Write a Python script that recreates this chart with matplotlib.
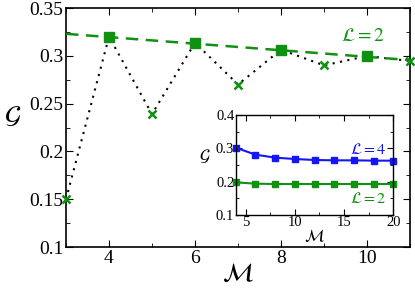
import numpy as np
import matplotlib
matplotlib.use("Agg")
import matplotlib.pyplot as plt
from matplotlib.ticker import MultipleLocator

plt.rcParams["font.family"] = ["Liberation Serif", "DejaVu Serif"]
plt.rcParams["mathtext.fontset"] = "stix"

GREEN = "#119111"
BLUE = "#1515f5"

# main panel data
M_all = [3, 4, 5, 6, 7, 8, 9, 10, 11]
G_all = [0.150, 0.320, 0.239, 0.3137, 0.270, 0.3064, 0.290, 0.2998, 0.2946]
M_even = [4, 6, 8, 10]
G_even = [0.320, 0.3137, 0.3064, 0.2998]
M_odd = [3, 5, 7, 9, 11]
G_odd = [0.150, 0.239, 0.270, 0.290, 0.2946]
fit_M = [3, 11]
fit_G = [0.323, 0.2955]

# inset data
M_in = [4, 6, 8, 10, 12, 14, 16, 18, 20]
G_L4 = [0.302, 0.281, 0.272, 0.268, 0.265, 0.264, 0.264, 0.263, 0.263]
G_L2 = [0.198, 0.194, 0.193, 0.193, 0.193, 0.193, 0.193, 0.193, 0.193]

fig = plt.figure(figsize=(4.15, 2.91), dpi=100)
ax = fig.add_axes([0.159, 0.151, 0.829, 0.8215])

ax.plot(M_all, G_all, color="black", lw=1.5, dashes=(1, 2.6), zorder=2)
ax.plot(fit_M, fit_G, "--", color=GREEN, lw=1.8, dashes=(5, 3), zorder=3)
ax.plot(M_even, G_even, "s", color=GREEN, ms=6.5, zorder=4)
ax.plot(M_odd, G_odd, "x", color=GREEN, ms=5.5, mew=1.8, zorder=4, clip_on=False)
ax.text(9.9, 0.3205, r"$\mathcal{L}=2$", color=GREEN, fontsize=14,
        ha="center", va="center")

ax.set_xlim(3, 11)
ax.set_ylim(0.1, 0.35)
ax.xaxis.set_major_locator(MultipleLocator(2))
ax.xaxis.set_minor_locator(MultipleLocator(1))
ax.yaxis.set_minor_locator(MultipleLocator(0.025))
ax.set_yticks([0.1, 0.15, 0.2, 0.25, 0.3, 0.35])
ax.set_yticklabels(["0.1", "0.15", "0.2", "0.25", "0.3", "0.35"])
ax.tick_params(which="both", direction="in", top=True, right=True, labelsize=14, pad=2)
ax.tick_params(which="major", length=5)
ax.tick_params(which="minor", length=3)
ax.set_xlabel(r"$\mathcal{M}$", fontsize=19, labelpad=-2)
ax.set_ylabel(r"$\mathcal{G}$", fontsize=19, rotation=0, labelpad=12)
for s in ax.spines.values():
    s.set_linewidth(1.2)

# inset
ins = fig.add_axes([0.568, 0.261, 0.380, 0.344])
ins.plot(M_in, G_L4, "-s", color=BLUE, ms=5, lw=1.5, clip_on=False)
ins.plot(M_in, G_L2, "-s", color=GREEN, ms=5, lw=1.5, clip_on=False)
ins.text(17.4, 0.295, r"$\mathcal{L}=4$", color=BLUE, fontsize=11.5, ha="center", va="center")
ins.text(17.4, 0.148, r"$\mathcal{L}=2$", color=GREEN, fontsize=11.5, ha="center", va="center")
ins.set_xlim(4, 20)
ins.set_ylim(0.1, 0.4)
ins.set_xticks([5, 10, 15, 20])
ins.xaxis.set_minor_locator(MultipleLocator(2.5))
ins.set_yticks([0.1, 0.2, 0.3, 0.4])
ins.set_yticklabels(["0.1", "0.2", "0.3", "0.4"])
ins.yaxis.set_minor_locator(MultipleLocator(0.05))
ins.tick_params(which="both", direction="in", top=True, right=True, labelsize=10.5, pad=1)
ins.tick_params(which="major", length=4)
ins.tick_params(which="minor", length=2.5)
ins.set_xlabel(r"$\mathcal{M}$", fontsize=12, labelpad=-1)
ins.set_ylabel(r"$\mathcal{G}$", fontsize=12, rotation=0, labelpad=8)
for s in ins.spines.values():
    s.set_linewidth(1.0)

fig.savefig("out.png", dpi=100)
